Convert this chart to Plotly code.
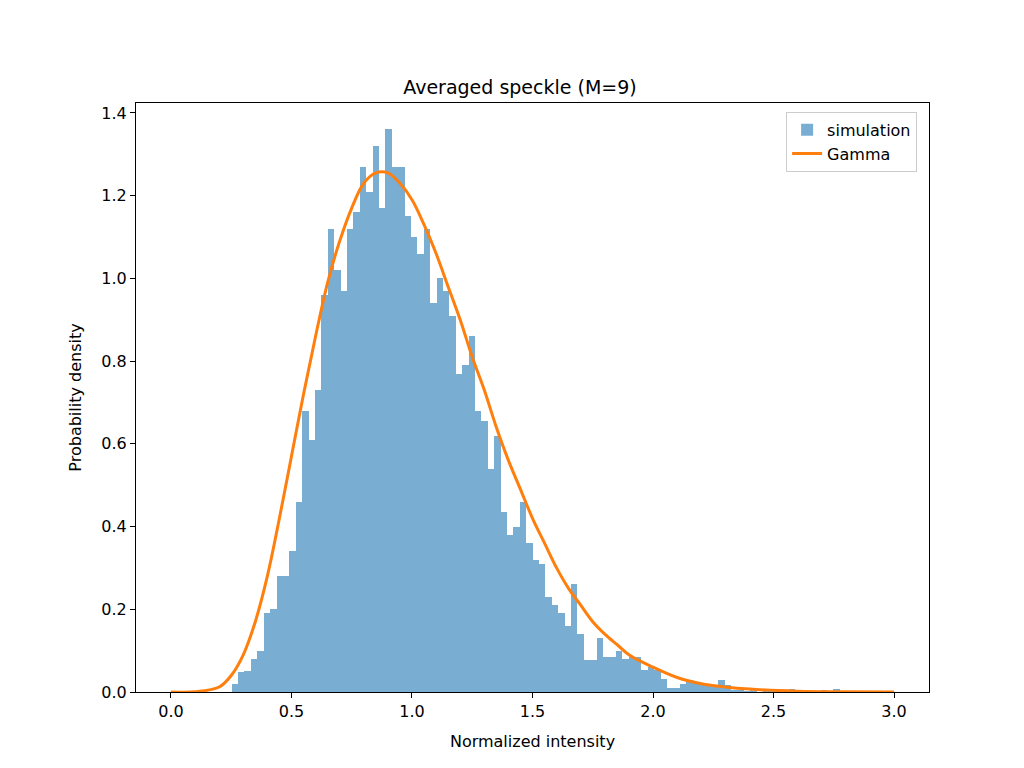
import plotly.graph_objects as go

# histogram of simulated averaged speckle intensity
bin_start = 0.252
bin_width = 0.02656
density = [
    0.02, 0.048, 0.05, 0.08, 0.10, 0.19, 0.20, 0.28, 0.28, 0.34,
    0.46, 0.68, 0.61, 0.73, 0.96, 1.12, 1.02, 0.97, 1.12, 1.16,
    1.27, 1.21, 1.32, 1.17, 1.36, 1.27, 1.27, 1.15, 1.10, 1.06,
    1.12, 0.94, 1.00, 0.97, 0.91, 0.77, 0.79, 0.86, 0.68, 0.655,
    0.54, 0.62, 0.435, 0.38, 0.40, 0.46, 0.36, 0.32, 0.31, 0.23,
    0.21, 0.19, 0.16, 0.26, 0.14, 0.077, 0.077, 0.13, 0.085, 0.085,
    0.10, 0.08, 0.085, 0.085, 0.054, 0.06, 0.052, 0.032, 0.01, 0.01,
    0.02, 0.03, 0.025, 0.02, 0.018, 0.015, 0.03, 0.018, 0.005, 0.005,
    0.003, 0.005, 0.0, 0.003, 0.005, 0.003, 0.0, 0.007, 0.003, 0.0,
    0.003, 0.0, 0.005, 0.0, 0.007, 0.0, 0.003, 0.0, 0.0, 0.003,
]
bin_centers = [bin_start + bin_width * (i + 0.5) for i in range(len(density))]

# Gamma pdf curve
gamma_x = [0.0, 0.1, 0.2, 0.25, 0.3, 0.35, 0.4, 0.45, 0.5, 0.55, 0.6, 0.65, 0.7,
           0.75, 0.8, 0.85, 0.9, 0.95, 1.0, 1.05, 1.1, 1.15, 1.2, 1.25, 1.3,
           1.35, 1.4, 1.45, 1.5, 1.55, 1.6, 1.65, 1.7, 1.75, 1.8, 1.85, 1.9,
           2.0, 2.1, 2.2, 2.3, 2.4, 2.6, 2.8, 3.0]
gamma_y = [0.0, 0.0005, 0.012, 0.04, 0.09, 0.17, 0.28, 0.42, 0.57, 0.72, 0.86,
           0.99, 1.09, 1.17, 1.23, 1.255, 1.255, 1.23, 1.19, 1.13, 1.06, 0.98,
           0.90, 0.81, 0.73, 0.64, 0.56, 0.49, 0.42, 0.36, 0.30, 0.25, 0.21,
           0.17, 0.14, 0.115, 0.09, 0.06, 0.035, 0.02, 0.012, 0.007, 0.002,
           0.0005, 0.0]

fig = go.Figure()
fig.add_trace(go.Bar(x=bin_centers, y=density, width=bin_width, name='simulation',
                     marker=dict(color='rgba(31,119,180,0.6)', line_width=0)))
fig.add_trace(go.Scatter(x=gamma_x, y=gamma_y, mode='lines', name='Gamma',
                         line=dict(color='#ff7f0e', width=3, shape='spline')))

axis_style = dict(showline=True, linecolor='black', linewidth=1, mirror=True,
                  ticks='outside', ticklen=5, tickcolor='black', showgrid=False,
                  zeroline=False, tickfont=dict(size=16, color='black'))
fig.update_layout(
    width=1024, height=768, bargap=0,
    paper_bgcolor='white', plot_bgcolor='white',
    font=dict(family='DejaVu Sans', color='black'),
    margin=dict(l=128, r=103, t=95, b=84),
    title=dict(text='Averaged speckle (M=9)', x=0.5, xanchor='center', y=0.905,
               font=dict(size=19)),
    xaxis=dict(range=[-0.145, 3.145], tickvals=[0, 0.5, 1, 1.5, 2, 2.5, 3],
               ticktext=['0.0', '0.5', '1.0', '1.5', '2.0', '2.5', '3.0'],
               title=dict(text='Normalized intensity', font=dict(size=16)), **axis_style),
    yaxis=dict(range=[0, 1.424], tickvals=[0, 0.2, 0.4, 0.6, 0.8, 1.0, 1.2, 1.4],
               ticktext=['0.0', '0.2', '0.4', '0.6', '0.8', '1.0', '1.2', '1.4'],
               title=dict(text='Probability density', font=dict(size=16)), **axis_style),
    legend=dict(x=0.985, y=0.985, xanchor='right', yanchor='top',
                bordercolor='#cccccc', borderwidth=1, font=dict(size=16)),
)
fig.write_html("out.html")
